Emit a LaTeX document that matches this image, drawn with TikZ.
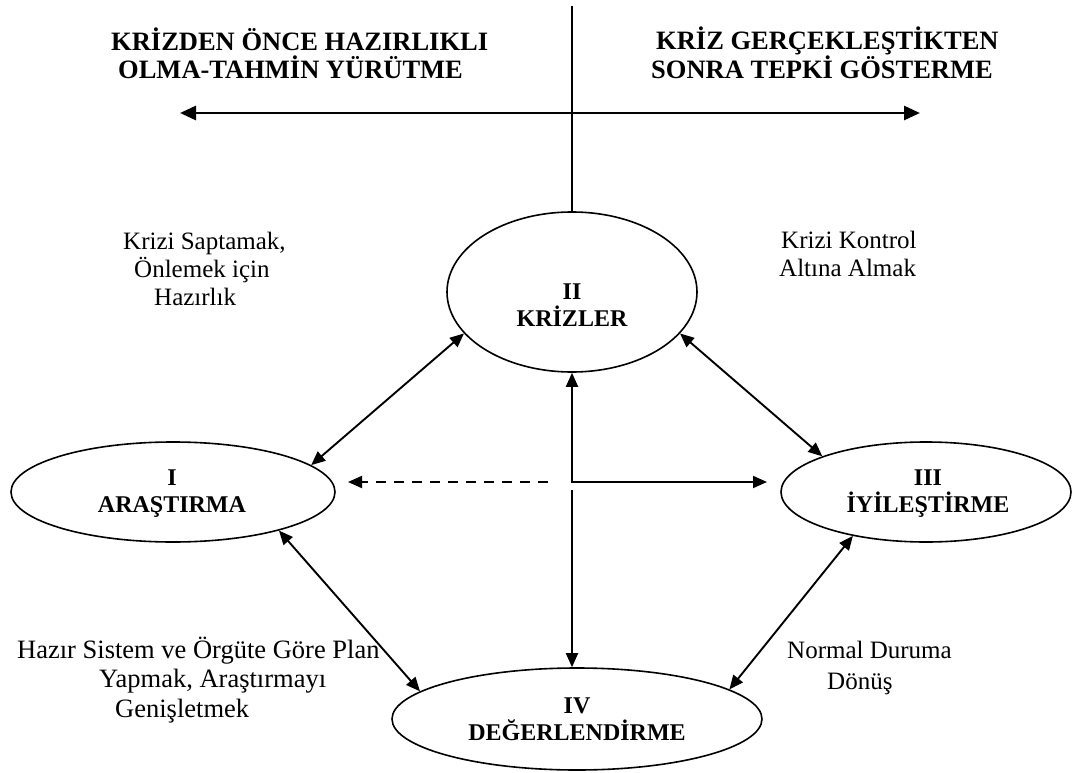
\documentclass[tikz,border=0pt]{standalone}
\usepackage{fontspec}
\setmainfont{Liberation Serif}
\usetikzlibrary{arrows.meta,shapes.geometric}
\begin{document}
\begin{tikzpicture}[x=1pt,y=-1pt,
  phase/.style={draw,ellipse,line width=1.6pt,inner sep=0pt},
  phaselabel/.style={align=center,inner sep=0pt,font=\fontsize{24}{27}\selectfont\bfseries},
  heading/.style={align=left,inner sep=0pt,anchor=base west,font=\fontsize{26.5}{28}\selectfont\bfseries},
  note/.style={align=left,inner sep=0pt,anchor=base west,font=\fontsize{25}{28}\selectfont},
  link/.style={line width=1.9pt,{Triangle[length=14pt,width=12pt]}-{Triangle[length=14pt,width=12pt]}},
  oneway/.style={line width=1.9pt,-{Triangle[length=14pt,width=12pt]}},
]
\useasboundingbox (0,0) rectangle (1074,773);

% the four phases of crisis management
\node[phase,minimum width=324pt,minimum height=100pt] (ars) at (173,492) {};
\node[phase,minimum width=250pt,minimum height=160pt] (krz) at (572,292) {};
\node[phase,minimum width=290pt,minimum height=100pt] (iyi) at (926,492) {};
\node[phase,minimum width=370pt,minimum height=102pt] (deg) at (577,719) {};

\node[phaselabel] (arslbl) at (172,494) {I\\ARAŞTIRMA};
\node[phaselabel] (krzlbl) at (572,305) {II\\KRİZLER};
\node[phaselabel] (iyilbl) at (928,494) {III\\İYİLEŞTİRME};
\node[phaselabel] (deglbl) at (577,719) {IV\\DEĞERLENDİRME};

% time axis: before / after the crisis
\coordinate (top) at (572,6);
\coordinate (pastL) at (180,113);
\coordinate (futR) at (920,113);
\draw[line width=1.5pt] (top) -- (krz.north);
\draw[line width=2.8pt,{Triangle[length=16pt,width=14pt]}-{Triangle[length=16pt,width=14pt]}] (pastL) -- (futR);

% multi-line notes are placed by the baseline of their last line
\node[heading] (pre) at (111,79) {KRİZDEN ÖNCE HAZIRLIKLI\\\hspace*{7pt}OLMA-TAHMİN YÜRÜTME};
\node[heading] (post) at (651,79) {\hspace*{5pt}KRİZ GERÇEKLEŞTİKTEN\\SONRA TEPKİ GÖSTERME};

% central hub below the crisis
\coordinate (hub) at (572,482);
\coordinate (hubgap) at (572,490);
\coordinate (dashfrom) at (548,482);
\coordinate (dashto) at (348,482);
\coordinate (rightto) at (767,482);
\draw[link] (krz.south) -- (hub) -- (rightto);
\draw[oneway] (hubgap) -- (deg.north -| hubgap);
\draw[oneway,dash pattern=on 10pt off 8pt] (dashfrom) -- (dashto);

% links around the cycle
\draw[link] (ars.11) -- (krz.201);
\draw[link] (krz.339) -- (iyi.161);
\draw[link] (ars.340) -- (deg.170);
\draw[link] (iyi.211) -- (deg.11);

% side notes
\node[note] (detect) at (123,305) {Krizi Saptamak,\\\hspace*{11pt}Önlemek için\\\hspace*{31pt}Hazırlık};
\node[note] (control) at (779,276) {\hspace*{2pt}Krizi Kontrol\\Altına Almak};
\node[note,font=\fontsize{26.5}{29.5}\selectfont] (plan) at (17,717) {Hazır Sistem ve Örgüte Göre Plan\\\hspace*{82pt}Yapmak, Araştırmayı\\\hspace*{98pt}Genişletmek};
\node[note,font=\fontsize{25}{31}\selectfont] (normal) at (787,689) {Normal Duruma\\\hspace*{40pt}Dönüş};
\end{tikzpicture}
\end{document}
